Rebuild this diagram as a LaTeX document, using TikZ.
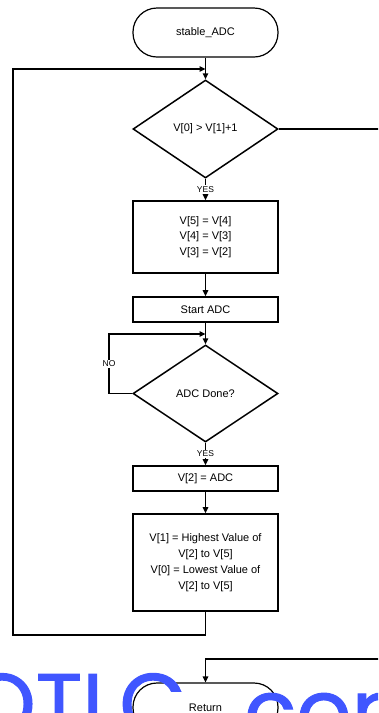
\documentclass[tikz,border=0pt]{standalone}
\usepackage{fontspec}
\setmainfont{Liberation Sans}
\newfontfamily\wmfont[FakeBold=1.2]{Poppins}
\usetikzlibrary{shapes.geometric,arrows.meta}
\definecolor{wmblue}{RGB}{64,86,255}
\begin{document}
\begin{tikzpicture}[x=1pt,y=-1pt,
  conn/.style={line width=1.6pt},
  arr/.style={line width=1.6pt,-{Triangle[length=6pt,width=5.5pt]}},
  txt/.style={font=\fontsize{11}{15.8}\selectfont},
  procbox/.style={txt,draw,line width=1.6pt,rectangle,minimum width=145pt,inner sep=0pt,align=center},
  termbox/.style={txt,draw,line width=1.2pt,rectangle,rounded corners=24pt,minimum width=145pt,minimum height=49pt,inner sep=0pt},
  decbox/.style={txt,draw,line width=1.5pt,diamond,aspect=1.5,minimum width=145pt,inner sep=0pt},
  lbl/.style={font=\fontsize{8.5}{10}\selectfont,fill=white,inner sep=1.2pt},
  wm/.style={font=\wmfont\fontsize{86}{86}\selectfont,text=wmblue,inner sep=0pt}
]
\useasboundingbox (0,0) rectangle (378,713);
\clip (0,0) rectangle (378,713);

\node[termbox] (start) at (205.5,32.5) {stable\_ADC};
\node[decbox,minimum height=98pt] (d1) at (205.5,129) {V[0] > V[1]+1};
\node[procbox,minimum height=72pt] (b1) at (205.5,237) {V[5] = V[4]\\V[4] = V[3]\\V[3] = V[2]};
\node[procbox,minimum height=25pt] (b2) at (205.5,309.5) {Start ADC};
\node[decbox,minimum height=97pt] (d2) at (205.5,393.5) {ADC Done?};
\node[procbox,minimum height=25pt] (b3) at (205.5,478.5) {V[2] = ADC};
\node[procbox,minimum height=97pt] (b4) at (205.5,562.5) {V[1] = Highest Value of\\V[2] to V[5]\\V[0] = Lowest Value of\\V[2] to V[5]};
\node[termbox] (ret) at (205.5,707.5) {Return};

\coordinate (loopA) at (13,635);
\coordinate (loopB) at (13,69);
\coordinate (loopC) at (205.5,69);
\coordinate (noA) at (109,393.5);
\coordinate (noB) at (109,334);
\coordinate (noC) at (205.5,334);
\coordinate (exitR) at (382,129);
\coordinate (entR) at (382,659);

\draw[arr] (start.south) -- (d1.north);
\draw[arr] (b4.south) |- (loopA) -- (loopB) -- (loopC);
\draw[arr] (d1.south) -- node[lbl] {YES} (b1.north);
\draw[conn] (d1.east) -- (exitR);
\draw[arr] (b1.south) -- (b2.north);
\draw[arr] (b2.south) -- (d2.north);
\draw[arr] (d2.west) -- (noA) -- node[lbl] {NO} (noB) -- (noC);
\draw[arr] (d2.south) -- node[lbl] {YES} (b3.north);
\draw[arr] (b3.south) -- (b4.north);
\draw[arr] (entR) -| (ret.north);

\node[wm,anchor=base east] (wm1) at (186,734) {OTLC};
\node[wm,anchor=base west] (wm2) at (244,741) {com};
\end{tikzpicture}
\end{document}
